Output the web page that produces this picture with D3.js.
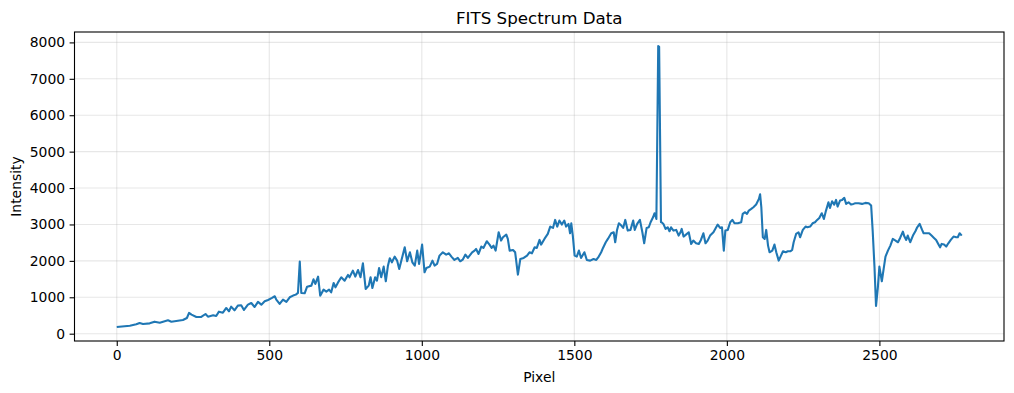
<!DOCTYPE html>
<html>
<head>
<meta charset="utf-8">
<script src="https://cdn.jsdelivr.net/npm/d3@7"></script>
<style>
	body { margin: 0; background: white; }
	svg text { font-family: "DejaVu Sans", sans-serif; fill: black; }
</style>
</head>
<body>
<svg id="spectrumSvg" width="1014" height="393"></svg>
<script>
// pixel positions
const pixels = [
	0, 43, 64, 75, 86, 108, 124, 141, 168, 179, 195, 217, 230, 237, 245, 261, 277, 291, 299, 316,
	326, 335, 348, 359, 368, 375, 386, 397, 408, 417, 430, 441, 452, 463, 474, 485, 496, 509, 518, 523,
	534, 545, 556, 567, 578, 587, 594, 600, 605, 616, 624, 638, 645, 651, 660, 667, 678, 687, 696, 703,
	711, 717, 725, 736, 747, 758, 763, 774, 782, 791, 799, 807, 816, 826, 832, 838, 847, 853, 860, 867,
	875, 882, 889, 895, 902, 911, 919, 926, 933, 944, 952, 961, 969, 977, 985, 991, 1001, 1009, 1015, 1026,
	1035, 1042, 1050, 1058, 1069, 1080, 1089, 1097, 1107, 1118, 1126, 1134, 1143, 1151, 1165, 1173, 1178, 1186, 1195, 1202,
	1213, 1222, 1229, 1235, 1242, 1252, 1260, 1266, 1277, 1282, 1288, 1299, 1306, 1315, 1323, 1334, 1345, 1353, 1361, 1370,
	1377, 1386, 1391, 1402, 1413, 1421, 1430, 1437, 1444, 1451, 1459, 1467, 1473, 1481, 1486, 1490, 1495, 1501, 1508, 1515,
	1522, 1533, 1541, 1552, 1563, 1572, 1580, 1588, 1594, 1603, 1610, 1621, 1629, 1634, 1640, 1646, 1654, 1660, 1667, 1675,
	1684, 1693, 1698, 1706, 1715, 1723, 1729, 1737, 1744, 1750, 1758, 1763, 1769, 1775, 1778, 1784, 1786, 1792, 1799, 1806,
	1812, 1817, 1825, 1834, 1842, 1848, 1852, 1858, 1866, 1875, 1883, 1890, 1899, 1908, 1915, 1923, 1930, 1937, 1945, 1956,
	1965, 1970, 1978, 1984, 1990, 1995, 2003, 2011, 2018, 2025, 2036, 2047, 2052, 2060, 2066, 2072, 2080, 2087, 2096, 2105,
	2109, 2113, 2118, 2124, 2129, 2135, 2140, 2149, 2156, 2162, 2170, 2176, 2184, 2193, 2200, 2208, 2214, 2219, 2227, 2235,
	2240, 2249, 2258, 2264, 2273, 2281, 2289, 2296, 2303, 2311, 2318, 2325, 2333, 2338, 2345, 2352, 2358, 2363, 2371, 2378,
	2385, 2391, 2399, 2407, 2415, 2421, 2432, 2443, 2454, 2465, 2473, 2478, 2484, 2489, 2495, 2500, 2508, 2514, 2520, 2528,
	2536, 2544, 2553, 2561, 2568, 2577, 2582, 2588, 2593, 2601, 2610, 2618, 2624, 2632, 2640, 2645, 2654, 2663, 2671, 2679,
	2686, 2693, 2699, 2704, 2712, 2719, 2726, 2734, 2743, 2752, 2757, 2763, 2770
];

const intensity = [
	185, 220, 257, 294, 266, 284, 330, 303, 367, 330, 349, 376, 431, 570, 523, 459, 459, 541, 468, 505,
	486, 605, 578, 706, 615, 743, 642, 771, 780, 651, 798, 844, 734, 872, 798, 890, 927, 982, 1028, 936,
	817, 936, 872, 1000, 1046, 1073, 1119, 1980, 1119, 1109, 1292, 1320, 1494, 1365, 1567, 1045, 1210, 1155, 1210, 1136,
	1393, 1274, 1402, 1549, 1457, 1613, 1549, 1732, 1567, 1750, 1549, 1934, 1228, 1320, 1549, 1255, 1549, 1457, 1805, 1549,
	1842, 1439, 1869, 2071, 1961, 2117, 2007, 1778, 2007, 2373, 1989, 2236, 1961, 1869, 2282, 1915, 2447, 1686, 1805, 1842,
	2007, 1869, 1915, 2144, 2236, 2172, 2208, 2117, 2025, 2080, 1989, 2034, 2172, 2080, 2236, 2282, 2328, 2190, 2392, 2355,
	2538, 2447, 2355, 2419, 2282, 2786, 2557, 2648, 2722, 2603, 2282, 2300, 2236, 1620, 2053, 2080, 2144, 2236, 2208, 2373,
	2355, 2575, 2447, 2603, 2740, 2942, 2905, 3125, 2942, 3107, 2997, 3107, 2942, 3015, 2758, 3033, 2694, 2144, 2117, 2282,
	2080, 2236, 2025, 2007, 2053, 2025, 2117, 2236, 2355, 2511, 2603, 2758, 2786, 2511, 2850, 3033, 2969, 2905, 3125, 2832,
	2850, 3107, 2850, 3015, 3125, 2786, 2483, 2905, 2923, 3061, 3198, 3308, 3150, 7900, 7880, 3061, 3061, 3015, 2877, 2923,
	2813, 2923, 2832, 2850, 2694, 2786, 2877, 2667, 2722, 2786, 2465, 2557, 2483, 2465, 2575, 2758, 2483, 2557, 2694, 2786,
	2923, 2997, 2905, 2923, 2282, 2832, 2850, 3061, 3125, 3033, 3033, 3061, 3290, 3336, 3290, 3381, 3427, 3473, 3546, 3702,
	3830, 3473, 2648, 2602, 2850, 2419, 2236, 2282, 2447, 2236, 2007, 2117, 2263, 2236, 2263, 2263, 2300, 2511, 2740, 2786,
	2648, 2850, 2942, 2923, 2942, 3033, 3061, 3125, 3180, 3308, 3152, 3381, 3610, 3455, 3638, 3546, 3675, 3491, 3656, 3675,
	3730, 3565, 3610, 3546, 3565, 3583, 3583, 3565, 3592, 3583, 3519, 2832, 1824, 760, 1274, 1842, 1439, 1778, 2117, 2282,
	2419, 2602, 2557, 2511, 2630, 2804, 2667, 2575, 2694, 2511, 2694, 2813, 2923, 3015, 2850, 2758, 2758, 2758, 2694, 2630,
	2575, 2465, 2373, 2465, 2447, 2392, 2483, 2575, 2667, 2648, 2648, 2758, 2694
];

const xTicks = [0, 500, 1000, 1500, 2000, 2500];
const yTicks = [0, 1000, 2000, 3000, 4000, 5000, 6000, 7000, 8000];

const svg = d3.select("svg#spectrumSvg");
const margin = { top: 32, right: 10, bottom: 52, left: 74.5 };
const chartWidth = 929.5;
const chartHeight = 309;

// matplotlib style 5% padding on both axes
const xExt = d3.extent(pixels);
const yExt = d3.extent(intensity);
const xPad = (xExt[1] - xExt[0]) * 0.05;
const yPad = (yExt[1] - yExt[0]) * 0.05;

const xScale = d3
	.scaleLinear()
	.domain([xExt[0] - xPad, xExt[1] + xPad])
	.range([0, chartWidth]);

const yScale = d3
	.scaleLinear()
	.domain([yExt[0] - yPad, yExt[1] + yPad])
	.range([chartHeight, 0]);

const plot = svg
	.append("g")
	.attr("transform", `translate(${margin.left},${margin.top})`);

// grid lines
plot
	.append("g")
	.selectAll("line")
	.data(xTicks)
	.join("line")
	.attr("x1", (d) => xScale(d))
	.attr("x2", (d) => xScale(d))
	.attr("y1", 0)
	.attr("y2", chartHeight)
	.attr("stroke", "#b0b0b0")
	.attr("stroke-opacity", 0.3)
	.attr("stroke-width", 1.1);

plot
	.append("g")
	.selectAll("line")
	.data(yTicks)
	.join("line")
	.attr("x1", 0)
	.attr("x2", chartWidth)
	.attr("y1", (d) => yScale(d))
	.attr("y2", (d) => yScale(d))
	.attr("stroke", "#b0b0b0")
	.attr("stroke-opacity", 0.3)
	.attr("stroke-width", 1.1);

// spectrum line
plot
	.append("path")
	.datum(d3.range(pixels.length))
	.attr("fill", "none")
	.attr("stroke", "#1f77b4")
	.attr("stroke-width", 2.1)
	.attr("stroke-linejoin", "round")
	.attr(
		"d",
		d3
			.line()
			.x((i) => xScale(pixels[i]))
			.y((i) => yScale(intensity[i]))
	);

// axes
const bottomAxis = d3
	.axisBottom(xScale)
	.tickValues(xTicks)
	.tickFormat(d3.format("d"))
	.tickSize(4.9)
	.tickPadding(4.5)
	.tickSizeOuter(0);
plot
	.append("g")
	.attr("transform", `translate(0,${chartHeight})`)
	.call(bottomAxis)
	.call((g) => g.select(".domain").remove());

const leftAxis = d3
	.axisLeft(yScale)
	.tickValues(yTicks)
	.tickFormat(d3.format("d"))
	.tickSize(4.9)
	.tickPadding(4.5)
	.tickSizeOuter(0);
plot
	.append("g")
	.call(leftAxis)
	.call((g) => g.select(".domain").remove());

plot
	.selectAll(".tick line")
	.attr("stroke", "black")
	.attr("stroke-width", 1.1);
plot
	.selectAll(".tick text")
	.attr("font-size", "13.9px")
	.style("font-family", "DejaVu Sans, sans-serif")
	.attr("fill", "black");

// frame
plot
	.append("rect")
	.attr("width", chartWidth)
	.attr("height", chartHeight)
	.attr("fill", "none")
	.attr("stroke", "black")
	.attr("stroke-width", 1.1);

// labels
svg
	.append("text")
	.attr("x", margin.left + chartWidth / 2)
	.attr("y", margin.top - 8.5)
	.attr("text-anchor", "middle")
	.attr("font-size", "16.7px")
	.text("FITS Spectrum Data");

svg
	.append("text")
	.attr("x", margin.left + chartWidth / 2)
	.attr("y", 382)
	.attr("text-anchor", "middle")
	.attr("font-size", "13.9px")
	.text("Pixel");

svg
	.append("text")
	.attr("transform", `translate(21,${margin.top + chartHeight / 2}) rotate(-90)`)
	.attr("text-anchor", "middle")
	.attr("font-size", "13.9px")
	.text("Intensity");
</script>
</body>
</html>
